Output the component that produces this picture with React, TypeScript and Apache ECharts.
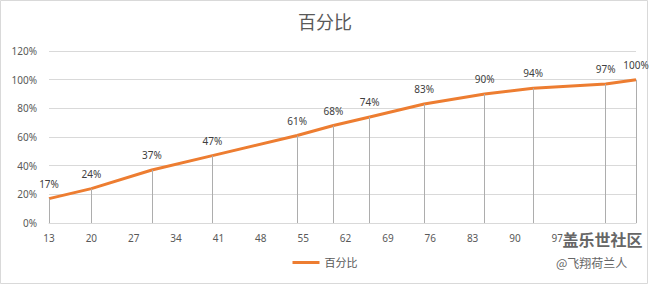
import React, { useEffect, useRef } from "react";
import * as echarts from "echarts";

const titleText = "百分比";
const seriesName = "百分比";
const xValues = [13, 20, 30, 40, 54, 60, 66, 75, 85, 93, 105, 110];
const yValues = [17, 24, 37, 47, 61, 68, 74, 83, 90, 94, 97, 100];
const xTickLabels = [13, 20, 27, 34, 41, 48, 55, 62, 69, 76, 83, 90, 97];
const watermark1 = "盖乐世社区";
const watermark2 = "@飞翔荷兰人";

const FONT = "'Noto Sans', 'Noto Sans CJK SC', sans-serif";

export default function App() {
  const ref = useRef<HTMLDivElement>(null);
  useEffect(() => {
    if (!ref.current) return;
    const chart = echarts.init(ref.current, undefined, { renderer: "svg" });
    const points = xValues.map((x, i) => [x, yValues[i]]);
    const dropLines = points.map((p) => [
      { coord: [p[0], 0] },
      { coord: [p[0], p[1]] },
    ]);
    chart.setOption({
      animation: false,
      backgroundColor: "#ffffff",
      textStyle: { fontFamily: FONT },
      title: {
        text: titleText,
        left: "center",
        top: 8,
        textStyle: { fontSize: 18, fontWeight: "normal", color: "#595959", fontFamily: FONT },
      },
      grid: { left: 49, right: 14, top: 51, bottom: 62 },
      legend: {
        data: [seriesName],
        bottom: 12,
        left: "center",
        itemWidth: 27,
        itemHeight: 3,
        itemGap: 10,
        textStyle: { fontSize: 11, color: "#595959", fontFamily: FONT },
        icon: "rect",
      },
      xAxis: {
        type: "value",
        min: 13,
        max: 110,
        axisLine: { show: true, lineStyle: { color: "#D9D9D9", width: 1 } },
        axisTick: { show: false },
        splitLine: { show: false },
        axisLabel: {
          customValues: xTickLabels,
          color: "#595959",
          fontSize: 10,
          margin: 10,
          fontFamily: FONT,
        },
      },
      yAxis: {
        type: "value",
        min: 0,
        max: 120,
        interval: 20,
        axisLine: { show: false },
        axisTick: { show: false },
        splitLine: { lineStyle: { color: "#D9D9D9", width: 1 } },
        axisLabel: {
          formatter: "{value}%",
          color: "#595959",
          fontSize: 10,
          margin: 12,
          fontFamily: FONT,
        },
      },
      series: [
        {
          name: "drop",
          type: "line",
          data: [],
          z: 1,
          silent: true,
          markLine: {
            symbol: "none",
            silent: true,
            label: { show: false },
            lineStyle: { color: "#ADADAD", width: 1, type: "solid" },
            emphasis: { disabled: true },
            data: dropLines,
          },
        },
        {
          name: seriesName,
          type: "line",
          data: points,
          z: 3,
          symbol: "circle",
          symbolSize: 0,
          showSymbol: true,
          lineStyle: { color: "#ED7D31", width: 3 },
          itemStyle: { color: "#ED7D31" },
          label: {
            show: true,
            position: "top",
            distance: 10,
            color: "#404040",
            fontSize: 10,
            fontFamily: FONT,
            formatter: (p: any) => p.value[1] + "%",
          },
        },
      ],
      graphic: [
        {
          type: "rect",
          shape: { x: 0.5, y: 0.5, width: 647, height: 283 },
          style: { fill: "none", stroke: "#D9D9D9", lineWidth: 1 },
          silent: true,
          z: -1,
        },
        {
          type: "text",
          left: 561,
          top: 229,
          z: 100,
          style: {
            text: watermark1,
            font: "bold 16px 'Noto Sans CJK SC', sans-serif",
            fill: "#666666",
            stroke: "#ffffff",
            lineWidth: 3,
          },
        },
        {
          type: "text",
          left: 555,
          top: 255,
          z: 100,
          style: {
            text: watermark2,
            font: "12px 'Noto Sans CJK SC', sans-serif",
            fill: "#666666",
            stroke: "#ffffff",
            lineWidth: 2,
          },
        },
      ],
    });
    return () => chart.dispose();
  }, []);
  return (
    <div
      ref={ref}
      style={{ position: "absolute", left: 0, top: 0, width: 650, height: 285 }}
    />
  );
}
